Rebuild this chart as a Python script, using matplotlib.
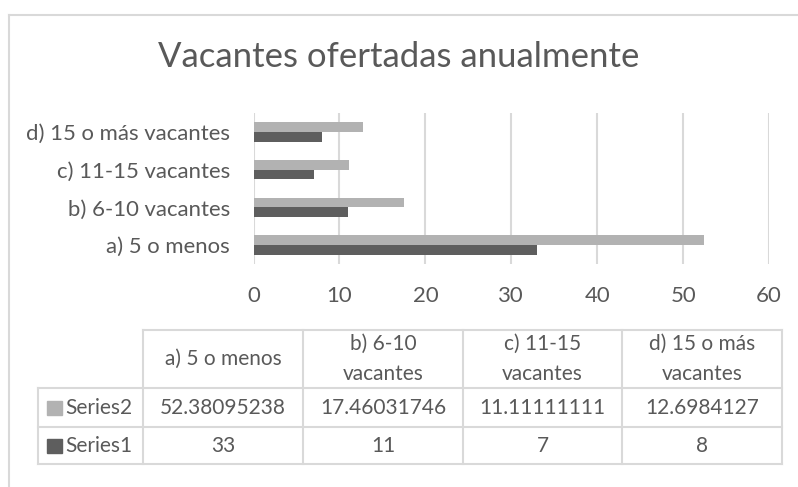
import matplotlib
matplotlib.use('Agg')
from matplotlib import pyplot as plt
from matplotlib.lines import Line2D
from matplotlib.patches import Rectangle

categories = ['a) 5 o menos', 'b) 6-10 vacantes', 'c) 11-15 vacantes', 'd) 15 o más vacantes']
table_headers = ['a) 5 o menos', 'b) 6-10\nvacantes', 'c) 11-15\nvacantes', 'd) 15 o más\nvacantes']
series2 = [52.38095238, 17.46031746, 11.11111111, 12.6984127]
series1 = [33, 11, 7, 8]
series2_text = ['52.38095238', '17.46031746', '11.11111111', '12.6984127']
series1_text = ['33', '11', '7', '8']
x_ticks = [0, 10, 20, 30, 40, 50, 60]

W, H = 798, 487
c_light = '#B2B2B2'
c_dark = '#5E5E5E'
c_grid = '#D9D9D9'
c_text = '#595959'

plt.rcParams['font.family'] = ['Lato', 'DejaVu Sans']

fig = plt.figure(figsize=(W / 100, H / 100), dpi=100)


def fx(px):
    return px / W


def fy(py):
    return 1 - py / H


# Marco del gráfico
fig.add_artist(Line2D([fx(8.5), fx(8.5)], [fy(14.5), 0], color=c_grid, lw=1.5))
fig.add_artist(Line2D([fx(8.5), 1], [fy(14.5), fy(14.5)], color=c_grid, lw=1.5))

# Area del grafico
left, right, top, bottom = 253.5, 769, 113, 264
ax = fig.add_axes([fx(left), fy(bottom), fx(right - left), (bottom - top) / H])

pos = list(range(len(categories)))
h = 0.257
ax.barh([p + h / 2 for p in pos], series2, height=h, color=c_light, zorder=3)
ax.barh([p - h / 2 for p in pos], series1, height=h, color=c_dark, zorder=3)

ax.set_xlim(0, 60)
ax.set_ylim(-0.5, 3.5)
ax.set_xticks(x_ticks)
ax.set_yticks(pos)
ax.set_yticklabels(categories, fontsize=15.9, color=c_text)
ax.set_xticklabels([str(t) for t in x_ticks], fontsize=15.9, color=c_text)
ax.tick_params(axis='y', length=0, pad=17)
ax.tick_params(axis='x', length=0, pad=16)
ax.grid(axis='x', color=c_grid, lw=1.5, zorder=0)
for s in ax.spines.values():
    s.set_visible(False)

fig.text(0.5, fy(57), 'Vacantes ofertadas anualmente', ha='center', va='center',
         fontsize=25, color=c_text)

# Tabla de datos
col_x = [143, 303, 463, 622, 782]
row_y = [330, 388, 427, 464]
label_left = 38
tkw = dict(color=c_grid, lw=1.5)
fig.add_artist(Line2D([fx(col_x[0]), fx(col_x[-1])], [fy(row_y[0])] * 2, **tkw))
for yy in row_y[1:]:
    fig.add_artist(Line2D([fx(label_left), fx(col_x[-1])], [fy(yy)] * 2, **tkw))
for xx in col_x:
    fig.add_artist(Line2D([fx(xx)] * 2, [fy(row_y[0]), fy(row_y[-1])], **tkw))
fig.add_artist(Line2D([fx(label_left)] * 2, [fy(row_y[1]), fy(row_y[-1])], **tkw))

for i in range(len(categories)):
    cx = (col_x[i] + col_x[i + 1]) / 2
    fig.text(fx(cx), fy((row_y[0] + row_y[1]) / 2), table_headers[i], ha='center', va='center',
             fontsize=15, color=c_text, linespacing=1.6)
    fig.text(fx(cx), fy((row_y[1] + row_y[2]) / 2), series2_text[i], ha='center', va='center',
             fontsize=15, color=c_text)
    fig.text(fx(cx), fy((row_y[2] + row_y[3]) / 2), series1_text[i], ha='center', va='center',
             fontsize=15, color=c_text)

for name, col, r in [('Series2', c_light, 1), ('Series1', c_dark, 2)]:
    cy = (row_y[r] + row_y[r + 1]) / 2
    fig.add_artist(Rectangle((fx(47), fy(cy + 7)), fx(15), 14 / H, color=col))
    fig.text(fx(65), fy(cy), name, ha='left', va='center', fontsize=15, color=c_text)

fig.savefig('out.png', dpi=100)
